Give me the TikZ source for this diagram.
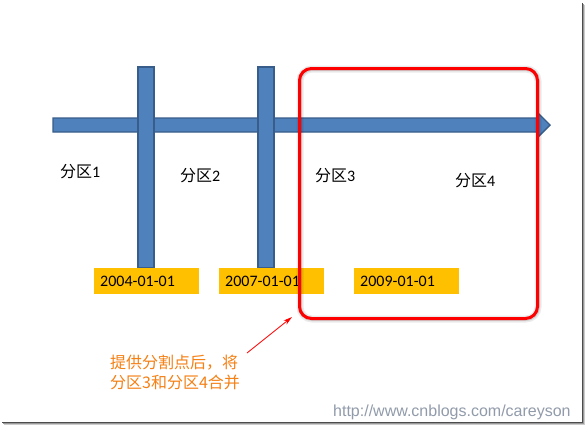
\documentclass[tikz,border=0pt]{standalone}
\usepackage{fontspec}
\setmainfont{Carlito}
\newfontfamily\cjk{Noto Sans CJK SC}
\newfontfamily\webfont{Liberation Sans}
\usetikzlibrary{arrows.meta}
\definecolor{barblue}{RGB}{79,129,189}
\definecolor{baredge}{RGB}{56,93,138}
\definecolor{boxyellow}{RGB}{255,192,0}
\definecolor{noteorange}{RGB}{245,128,20}
\definecolor{markgray}{RGB}{145,155,170}
\tikzset{
  bar/.style={fill=barblue,draw=baredge,line width=1.4pt},
  datebox/.style={fill=boxyellow,draw=none,minimum width=105pt,minimum height=26pt,inner sep=0pt,anchor=north west},
  datetext/.style={font=\fontsize{16pt}{16pt}\selectfont,anchor=west,inner sep=0pt,text=black},
  partlabel/.style={font=\fontsize{16pt}{16pt}\selectfont,anchor=west,inner sep=0pt,text=black},
  notetext/.style={font=\cjk\fontsize{16pt}{20pt}\selectfont,text=noteorange,align=left,anchor=west,inner sep=0pt},
  mergebox/.style={draw=red,line width=3pt,rounded corners=12pt},
  pointer/.style={draw=red,line width=0.8pt,-{Stealth[length=9pt,width=5pt]}}
}
\begin{document}
\begin{tikzpicture}[x=1pt,y=-1pt]
\useasboundingbox (0,0) rectangle (586,426);
\fill[white] (0,0) rectangle (586,426);
% frame shadow
\draw[black!70,line width=1pt] (582.5,3) -- (582.5,422.5) -- (2,422.5);
\draw[black!40,line width=1pt] (583.5,4) -- (583.5,423.5) -- (3,423.5);
\draw[black!20,line width=1pt] (584.5,5) -- (584.5,424.5) -- (4,424.5);
% time axis
\draw[bar] (53,118) -- (537,118) -- (537,112) -- (550,125) -- (537,138) -- (537,132) -- (53,132) -- cycle;
% split bars
\draw[bar] (138,67) rectangle (154,268);
\draw[bar] (258,67) rectangle (274,268);
% date boxes
\node[datebox] (b1) at (94,268) {};
\node[datebox] (b2) at (219,268) {};
\node[datebox] (b3) at (354,268) {};
\node[datetext] (d1) at ([xshift=6pt]b1.west) {2004-01-01};
\node[datetext] (d2) at ([xshift=6pt]b2.west) {2007-01-01};
\node[datetext] (d3) at ([xshift=6pt]b3.west) {2009-01-01};
% partition labels
\node[partlabel] (p1) at (60,172) {{\cjk 分区}1};
\node[partlabel] (p2) at (180,176) {{\cjk 分区}2};
\node[partlabel] (p3) at (315,176) {{\cjk 分区}3};
\node[partlabel] (p4) at (455,181) {{\cjk 分区}4};
% merge box with soft shadow
\draw[black,opacity=0.08,line width=7pt,rounded corners=12pt] (300,69) rectangle (538,319);
\draw[black,opacity=0.12,line width=4pt,rounded corners=12pt] (300,69) rectangle (538,319);
\node[mergebox,minimum width=238pt,minimum height=250pt,anchor=north west,inner sep=0pt] (m) at (298,67) {};
% annotation
\node[notetext] (note) at (110,372) {提供分割点后，将\\分区3和分区4合并};
\coordinate (from) at (247,353);
\coordinate (to) at (292,317);
\draw[pointer] (from) -- (to);
% watermark
\node[font=\webfont\fontsize{16pt}{16pt}\selectfont,text=markgray,anchor=west,inner sep=0pt] (url) at (333,412) {http://www.cnblogs.com/careyson};
\end{tikzpicture}
\end{document}
